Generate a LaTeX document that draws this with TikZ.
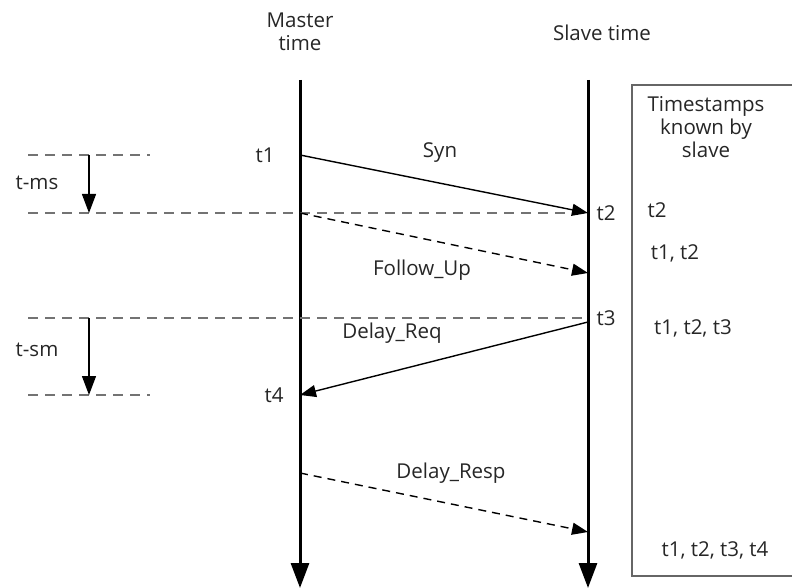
\documentclass[tikz,border=0pt]{standalone}
\usepackage{fontspec}
\setmainfont{Open Sans}
\usetikzlibrary{positioning, arrows.meta}

\begin{document}
\begin{tikzpicture}[
    x=1pt, y=-1pt,
    lbl/.style={font=\fontsize{20.5}{23}\selectfont, text=black!85, inner sep=0pt},
    axis/.style={line width=3pt, -{Triangle[length=25pt, width=18pt]}},
    msg/.style={line width=1.4pt, ->},
    dmsg/.style={msg, dash pattern=on 8pt off 6pt},
    guide/.style={black!55, line width=2.6pt, dash pattern=on 10pt off 7pt},
    span/.style={line width=1.3pt, -{Triangle[length=19pt, width=14pt]}},
    >={Triangle[length=16pt, width=12pt]}
]
  \useasboundingbox (0,0) rectangle (792,588);

  % time axes
  \coordinate (mtop) at (300,80);
  \coordinate (mbot) at (300,588);
  \coordinate (stop) at (588,80);
  \coordinate (sbot) at (588,588);
  \node[lbl, align=center] (master) at (300,32) {Master\\time};
  \node[lbl] (slave) at (602,33) {Slave time};
  \draw[axis] (mtop) -- (mbot);
  \draw[axis] (stop) -- (sbot);

  % event points on the axes
  \coordinate (t1) at (300,155);
  \coordinate (t2) at (588,213);
  \coordinate (fu-a) at (300,213);
  \coordinate (fu-b) at (588,273);
  \coordinate (t3) at (588,318);
  \coordinate (t4) at (300,395);
  \coordinate (dr-a) at (300,473);
  \coordinate (dr-b) at (588,532);

  \node[lbl] (t1-lbl) at (265,155) {t1};
  \node[lbl] (t2-lbl) at (606,213) {t2};
  \node[lbl] (t3-lbl) at (606,318) {t3};
  \node[lbl] (t4-lbl) at (274,395) {t4};

  % reference lines and offsets
  \coordinate (g1-a) at (28,155);
  \coordinate (g1-b) at (150,155);
  \coordinate (g2-a) at (28,213);
  \coordinate (g3-a) at (28,318);
  \coordinate (g4-a) at (28,395);
  \coordinate (g4-b) at (150,395);
  \draw[guide] (g1-a) -- (g1-b);
  \draw[guide] (g2-a) -- (t2);
  \draw[guide] (g3-a) -- (t3);
  \draw[guide] (g4-a) -- (g4-b);

  \coordinate (ms-a) at (89,155);
  \coordinate (ms-b) at (89,213);
  \coordinate (sm-a) at (89,318);
  \coordinate (sm-b) at (89,395);
  \draw[span] (ms-a) -- (ms-b);
  \draw[span] (sm-a) -- (sm-b);
  \node[lbl] (tms) at (37,183) {t-ms};
  \node[lbl] (tsm) at (37,350) {t-sm};

  % messages
  \draw[msg] (t1) -- (t2);
  \draw[dmsg] (fu-a) -- (fu-b);
  \draw[msg] ([yshift=-4pt]t3) -- (t4);
  \draw[dmsg] (dr-a) -- (dr-b);
  \node[lbl] (syn) at (440,153) {Syn};
  \node[lbl] (fu) at (422,270) {Follow\_Up};
  \node[lbl] (dreq) at (392,333) {Delay\_Req};
  \node[lbl] (dresp) at (451,473) {Delay\_Resp};

  % what the slave knows
  \draw[black!60, line width=2pt] (800,85) -- (632,85) -- (632,576) -- (800,576);
  \node[lbl, align=center] (known) at (706,127) {Timestamps\\known by\\slave};
  \node[lbl] (k1) at (657,210) {t2};
  \node[lbl] (k2) at (675,253) {t1, t2};
  \node[lbl] (k3) at (693,328) {t1, t2, t3};
  \node[lbl] (k4) at (715,550) {t1, t2, t3, t4};
\end{tikzpicture}
\end{document}
